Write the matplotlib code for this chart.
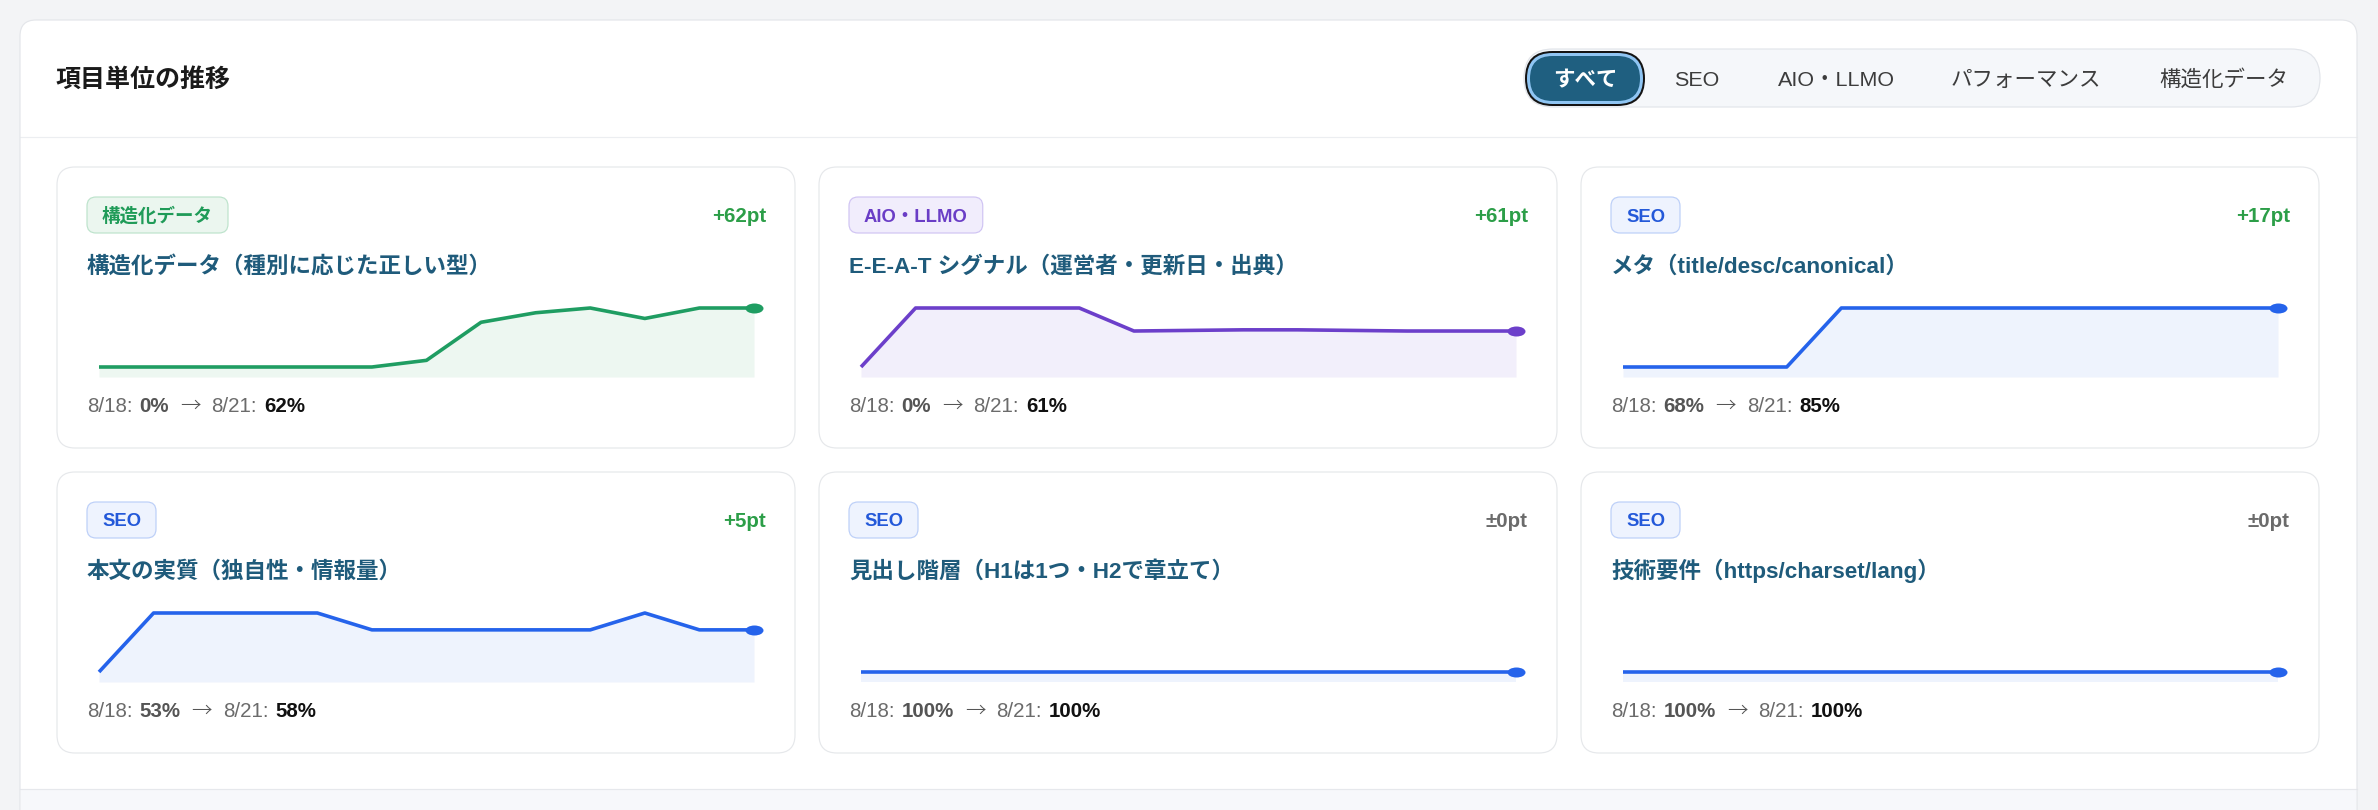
import matplotlib
matplotlib.use('Agg')
import matplotlib.pyplot as plt
from matplotlib.patches import FancyBboxPatch, Rectangle
from matplotlib.path import Path
from matplotlib.transforms import Affine2D

plt.rcParams['font.family'] = ['Liberation Sans', 'Noto Sans CJK JP', 'DejaVu Sans']

W, H = 2378, 810
PT = 72 / 100  # px -> pt at dpi 100

HEADER_TITLE = '項目単位の推移'
TABS = ['すべて', 'SEO', 'AIO・LLMO', 'パフォーマンス', '構造化データ']
TAB_CENTERS = [1585, 1697, 1836, 2026, 2224]

START_DATE = '8/18'
END_DATE = '8/21'

ITEM_TITLES = [
    '構造化データ（種別に応じた正しい型）',
    'E-E-A-T シグナル（運営者・更新日・出典）',
    'メタ（title/desc/canonical）',
    '本文の実質（独自性・情報量）',
    '見出し階層（H1は1つ・H2で章立て）',
    '技術要件（https/charset/lang）',
]
ITEM_CATEGORIES = ['構造化データ', 'AIO・LLMO', 'SEO', 'SEO', 'SEO', 'SEO']

# daily scores (%) per item, 13 snapshots from 8/18 to 8/21
S_STRUCT = [0, 0, 0, 0, 0, 0, 7, 47, 57, 62, 51, 62, 62]
S_EEAT = [0, 100, 100, 100, 100, 61, 62, 63, 63, 62, 61, 61, 61]
S_META = [68, 68, 68, 68, 85, 85, 85, 85, 85, 85, 85, 85, 85]
S_BODY = [53, 60, 60, 60, 60, 58, 58, 58, 58, 58, 60, 58, 58]
S_HEADINGS = [100, 100, 100, 100, 100, 100, 100, 100, 100, 100, 100, 100, 100]
S_TECH = [100, 100, 100, 100, 100, 100, 100, 100, 100, 100, 100, 100, 100]
ITEM_SERIES = [S_STRUCT, S_EEAT, S_META, S_BODY, S_HEADINGS, S_TECH]

CAT_STYLE = {
    '構造化データ': dict(line='#1f9d62', fill='#edf7f1', bg='#ebf6ef',
                   edge='#bde3cc', text='#1f9b58'),
    'AIO・LLMO': dict(line='#6c3fca', fill='#f2effb', bg='#f1edfc',
                      edge='#d0c4f3', text='#6a3dc6'),
    'SEO': dict(line='#2563eb', fill='#eef3fd', bg='#eef3fe',
                edge='#bccff8', text='#2459d9'),
}

CARD_X = [57, 819, 1581]
CARD_Y = [167, 472]
CARD_W, CARD_H = 738, 281

TITLE_COLOR = '#1f5b7b'
GRAY = '#6b6b6b'


def rbox(ax, x, y, w, h, r, fc, ec='none', lw=0, z=1):
    p = FancyBboxPatch((x, y), w, h, boxstyle=f'round,pad=0,rounding_size={r}',
                       facecolor=fc, edgecolor=ec, linewidth=lw * PT, zorder=z)
    ax.add_patch(p)
    return p


def px_text(ax, x, y, s, size, **kw):
    return ax.text(x, y, s, fontsize=size * PT, va='baseline', **kw)


fig = plt.figure(figsize=(W / 100, H / 100), dpi=100)
fig.patch.set_facecolor('#f3f4f6')
bg = fig.add_axes([0, 0, 1, 1])
bg.set_xlim(0, W)
bg.set_ylim(H, 0)
bg.axis('off')
renderer = fig.canvas.get_renderer()

# outer panel
rbox(bg, 20, 20, 2337, 830, 16, 'white', z=1)
bg.add_patch(Rectangle((21, 789), 2335, 40, facecolor='#f7f8fb', edgecolor='none', zorder=2))
bg.plot([20, 2357], [789, 789], color='#e6e8ec', lw=1.2 * PT, zorder=3)
rbox(bg, 20, 20, 2337, 830, 16, 'none', '#e4e6ea', 1.2, z=4)
bg.plot([20, 2357], [137, 137], color='#eceef1', lw=1.2 * PT, zorder=3)

px_text(bg, 56, 87, HEADER_TITLE, 25, weight='bold', color='#1a1a1a', zorder=5)

# tab bar
rbox(bg, 1524, 49, 796, 58, 29, '#f5f7fa', '#e2e5ea', 1.2, z=3)
rbox(bg, 1525, 51, 120, 55, 27.5, '#141414', z=4)
rbox(bg, 1527, 53, 116, 51, 25.5, '#8fc5f3', z=4)
rbox(bg, 1530, 56, 110, 45, 22.5, '#1f5f80', z=4)
for i, (tab, cx) in enumerate(zip(TABS, TAB_CENTERS)):
    if i == 0:
        px_text(bg, cx, 86, tab, 21.5, ha='center', weight='bold', color='white', zorder=5)
    else:
        px_text(bg, cx, 86, tab, 21.5, ha='center', color='#3c3c3c', zorder=5)

dot = Path.unit_circle().transformed(Affine2D().scale(1.8, 1.0))

for k, (title, cat, series) in enumerate(zip(ITEM_TITLES, ITEM_CATEGORIES, ITEM_SERIES)):
    cl = CARD_X[k % 3]
    ct = CARD_Y[k // 3]
    cr = cl + CARD_W
    st = CAT_STYLE[cat]
    rbox(bg, cl, ct, CARD_W, CARD_H, 18, 'white', '#e6e8eb', 1.2, z=5)

    # badge
    t = px_text(bg, cl + 45, ct + 54.5, cat, 18.5, weight='bold', color=st['text'], zorder=7)
    tw = t.get_window_extent(renderer).width
    rbox(bg, cl + 30, ct + 30, tw + 30, 36, 9, st['bg'], st['edge'], 1.2, z=6)

    # delta
    start, end = series[0], series[-1]
    delta = end - start
    if delta > 0:
        dtxt, dcol = f'+{delta}pt', '#2c9e48'
    elif delta < 0:
        dtxt, dcol = f'{delta}pt', '#d33a3a'
    else:
        dtxt, dcol = '±0pt', '#6b6b6b'
    px_text(bg, cr - 29, ct + 55, dtxt, 20.5, ha='right', weight='bold', color=dcol, zorder=7)

    # item title
    px_text(bg, cl + 30, ct + 106, title, 22.5, weight='bold', color=TITLE_COLOR, zorder=7)

    # footer: 8/18: x% -> 8/21: y%
    pieces = [(f'{START_DATE}:', 'normal', GRAY, 7, None),
              (f'{start}%', 'bold', '#555555', 11, None),
              ('→', 'light', '#555555', 11, ['Noto Sans CJK JP']),
              (f'{END_DATE}:', 'normal', GRAY, 7, None),
              (f'{end}%', 'bold', '#111111', 0, None)]
    x = cl + 30
    for s, wgt, col, gap, fam in pieces:
        kw = {'family': fam} if fam else {}
        t = px_text(bg, x, ct + 245, s, 20.5, weight=wgt, color=col, zorder=7, **kw)
        x += t.get_window_extent(renderer).width + gap

    # sparkline
    x0, x1 = cl + 42, cr - 41
    y0, y1 = ct + 141, ct + 210
    ax = fig.add_axes([x0 / W, 1 - y1 / H, (x1 - x0) / W, (y1 - y0) / H])
    ax.axis('off')
    vmin, vmax = min(series), max(series)
    span = (vmax - vmin) or 1
    lo = vmin - span * 10 / 59
    hi = vmin + span if vmax == vmin else vmax
    xs = list(range(len(series)))
    ax.set_xlim(0, len(series) - 1)
    ax.set_ylim(lo, hi)
    ax.fill_between(xs, series, lo, color=st['fill'], lw=0, zorder=1)
    ax.plot(xs, series, color=st['line'], lw=3.6 * PT, solid_capstyle='butt',
            zorder=2, clip_on=False)
    ax.plot(xs[-1], series[-1], marker=dot, markersize=18 * PT, color=st['line'],
            markeredgewidth=0, zorder=3, clip_on=False)

fig.savefig('out.png', dpi=100, facecolor=fig.get_facecolor())
